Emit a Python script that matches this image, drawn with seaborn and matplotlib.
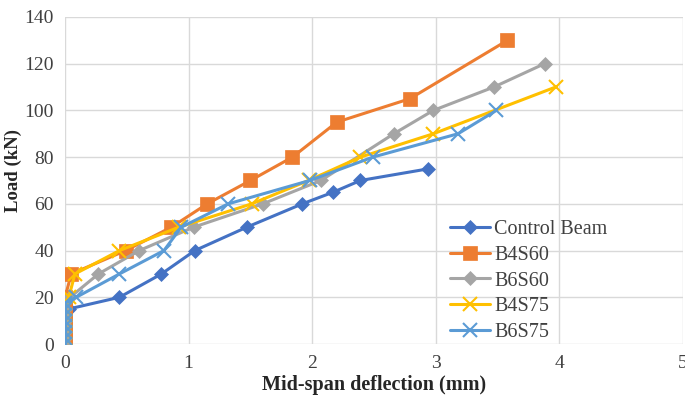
import numpy as np
import pandas as pd
import seaborn as sns
import matplotlib.pyplot as plt

# load-deflection readings
control_x = [0, 0, 0, 0, 0, 0, 0.03, 0.44, 0.78, 1.05, 1.47, 1.92, 2.17, 2.39, 2.94]
control_y = [0, 2.5, 5, 7.5, 10, 12.5, 15, 20, 30, 40, 50, 60, 65, 70, 75]

b4s60_x = [0, 0, 0, 0, 0, 0, 0, 0, 0, 0.05, 0.49, 0.86, 1.15, 1.5, 1.84, 2.2, 2.79, 3.58]
b4s60_y = [0, 2.5, 5, 7.5, 10, 12.5, 15, 17.5, 20, 30, 40, 50, 60, 70, 80, 95, 105, 130]

b6s60_x = [0, 0, 0, 0, 0, 0, 0, 0.04, 0.27, 0.6, 1.04, 1.6, 2.07, 2.66, 2.98, 3.47, 3.88]
b6s60_y = [0, 2.5, 5, 7.5, 10, 12.5, 15, 20, 30, 40, 50, 60, 70, 90, 100, 110, 120]

b4s75_x = [0, 0, 0, 0, 0, 0, 0, 0.03, 0.08, 0.44, 0.92, 1.51, 1.97, 2.39, 2.98, 3.97]
b4s75_y = [0, 2.5, 5, 7.5, 10, 12.5, 15, 20, 30, 40, 50, 60, 70, 80, 90, 110]

b6s75_x = [0, 0, 0, 0, 0, 0, 0, 0, 0.09, 0.44, 0.8, 0.94, 1.32, 1.98, 2.49, 3.18, 3.49]
b6s75_y = [0, 2.5, 5, 7.5, 10, 12.5, 15, 17.5, 20, 30, 40, 50, 60, 70, 80, 90, 100]

series = {
    "Control Beam": (control_x, control_y),
    "B4S60": (b4s60_x, b4s60_y),
    "B6S60": (b6s60_x, b6s60_y),
    "B4S75": (b4s75_x, b4s75_y),
    "B6S75": (b6s75_x, b6s75_y),
}
colors = {"Control Beam": "#4472C4", "B4S60": "#ED7D31", "B6S60": "#A5A5A5",
          "B4S75": "#FFC000", "B6S75": "#5B9BD5"}
markers = {"Control Beam": "D", "B4S60": "s", "B6S60": "D", "B4S75": "x", "B6S75": "x"}
msizes = {"Control Beam": 7, "B4S60": 10, "B6S60": 7, "B4S75": 10, "B6S75": 10}

sns.set_style("white")
plt.rcParams['font.family'] = ['Liberation Serif', 'DejaVu Serif']

fig = plt.figure(figsize=(6.85, 4.04), dpi=100)
ax = fig.add_axes([0.095, 0.1485, 0.902, 0.8095])

for name, (xs, ys) in series.items():
    df = pd.DataFrame({"x": xs, "y": ys})
    sns.lineplot(data=df, x="x", y="y", sort=False, estimator=None, ax=ax,
                 color=colors[name], marker=markers[name], markersize=msizes[name],
                 markeredgewidth=1.5 if markers[name] == "x" else 0.5,
                 markeredgecolor=colors[name], linewidth=2.2, label=name)

ax.set_xlim(0, 5)
ax.set_ylim(0, 140)
ax.set_xticks(range(0, 6))
ax.set_yticks(range(0, 141, 20))
ax.grid(True, color="#D9D9D9", linewidth=1)
for s in ax.spines.values():
    s.set_visible(False)
ax.tick_params(axis="both", length=0, labelsize=14, colors="#404040")
ax.tick_params(axis="y", pad=8)
ax.tick_params(axis="x", pad=8)
ax.set_xlabel("Mid-span deflection (mm)", fontsize=14.5, fontweight="bold",
              color="#262626", labelpad=2)
ax.set_ylabel("Load (kN)", fontsize=13.5, fontweight="bold", color="#262626")
ax.yaxis.set_label_coords(-0.07, 0.53)

ax.legend(loc="lower left", bbox_to_anchor=(0.62, 0.0), frameon=False, fontsize=14.5,
          handlelength=2.0, labelspacing=0.33, handletextpad=0.2,
          borderaxespad=0, borderpad=0.1)
for t in ax.get_legend().get_texts():
    t.set_color("#404040")

fig.savefig("out.png", dpi=100)
